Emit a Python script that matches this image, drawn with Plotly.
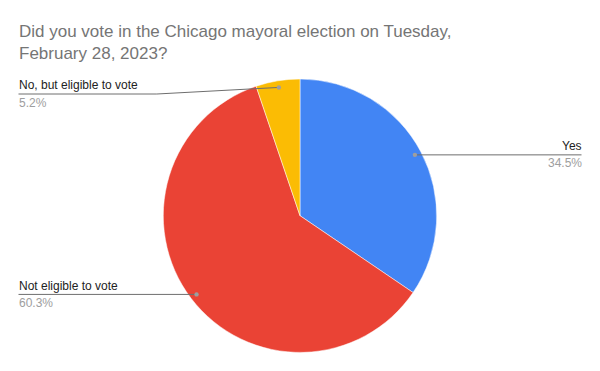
import math
import plotly.graph_objects as go

# Data
categories = ["Yes", "Not eligible to vote", "No, but eligible to vote"]
values = [34.5, 60.3, 5.2]
colors = ["#4285F4", "#EA4335", "#FBBC04"]
title_text = "Did you vote in the Chicago mayoral election on Tuesday,<br>February 28, 2023?"

# Layout geometry (pixels)
W, H = 600, 371
CX, CY, R = 300.0, 215.7, 136.7
DOT_R = 0.951 * R
LEFT_X, RIGHT_X = 18.5, 581.5
MIN_LABEL_Y = 94.0
ELBOW_GAP = 6.5
TEXT_OFF = 8.5
TEXT_PAD = 2.0


def px(x):
    return x / W


def py(y):
    return 1 - y / H


fig = go.Figure(go.Pie(
    labels=categories,
    values=values,
    marker=dict(colors=colors, line=dict(color="white", width=0.5)),
    sort=False,
    direction="clockwise",
    rotation=0,
    textinfo="none",
    hoverinfo="label+percent",
    showlegend=False,
    domain=dict(x=[px(CX - R), px(CX + R)], y=[py(CY + R), py(CY - R)]),
))

shapes = []
annotations = []
total = sum(values)
cum = 0.0
for name, v in zip(categories, values):
    mid = (cum + v / 2) / total * 2 * math.pi
    cum += v
    dx, dy = math.sin(mid), -math.cos(mid)
    x0, y0 = CX + DOT_R * dx, CY + DOT_R * dy
    right = dx > 0
    ly = max(y0, MIN_LABEL_Y)
    end_x = RIGHT_X if right else LEFT_X
    if abs(ly - y0) > 0.5:
        ex = CX + R + ELBOW_GAP if right else CX - R - ELBOW_GAP
        path = f"M {px(x0)} {py(y0)} L {px(ex)} {py(ly)} L {px(end_x)} {py(ly)}"
    else:
        path = f"M {px(x0)} {py(y0)} L {px(end_x)} {py(ly)}"
    shapes.append(dict(type="path", xref="paper", yref="paper", path=path,
                       line=dict(color="#6e6e6e", width=1)))
    shapes.append(dict(type="circle", xref="paper", yref="paper",
                       x0=px(x0 - 2.2), x1=px(x0 + 2.2), y0=py(y0 + 2.2), y1=py(y0 - 2.2),
                       fillcolor="#9e9e9e", line=dict(width=0)))
    anchor = "right" if right else "left"
    tx = end_x + TEXT_PAD if right else end_x - TEXT_PAD
    annotations.append(dict(xref="paper", yref="paper", x=px(tx), y=py(ly - TEXT_OFF),
                            text=name, showarrow=False, xanchor=anchor, yanchor="middle",
                            font=dict(family="Liberation Sans, Arial", size=12, color="#222222")))
    annotations.append(dict(xref="paper", yref="paper", x=px(tx), y=py(ly + TEXT_OFF),
                            text=f"{v / total * 100:.1f}%", showarrow=False, xanchor=anchor,
                            yanchor="middle",
                            font=dict(family="Liberation Sans, Arial", size=12, color="#9e9e9e")))

fig.update_layout(
    width=W, height=H,
    margin=dict(l=0, r=0, t=0, b=0),
    paper_bgcolor="white",
    plot_bgcolor="white",
    title=dict(text=title_text, x=px(19), xanchor="left", xref="paper",
               y=py(37), yanchor="top", yref="paper",
               font=dict(family="Liberation Sans, Arial", size=17, color="#757575")),
    shapes=shapes,
    annotations=annotations,
)

fig.write_html("out.html", config={"displayModeBar": False},
               post_script="document.body.style.margin='0';document.body.style.overflow='hidden';")
